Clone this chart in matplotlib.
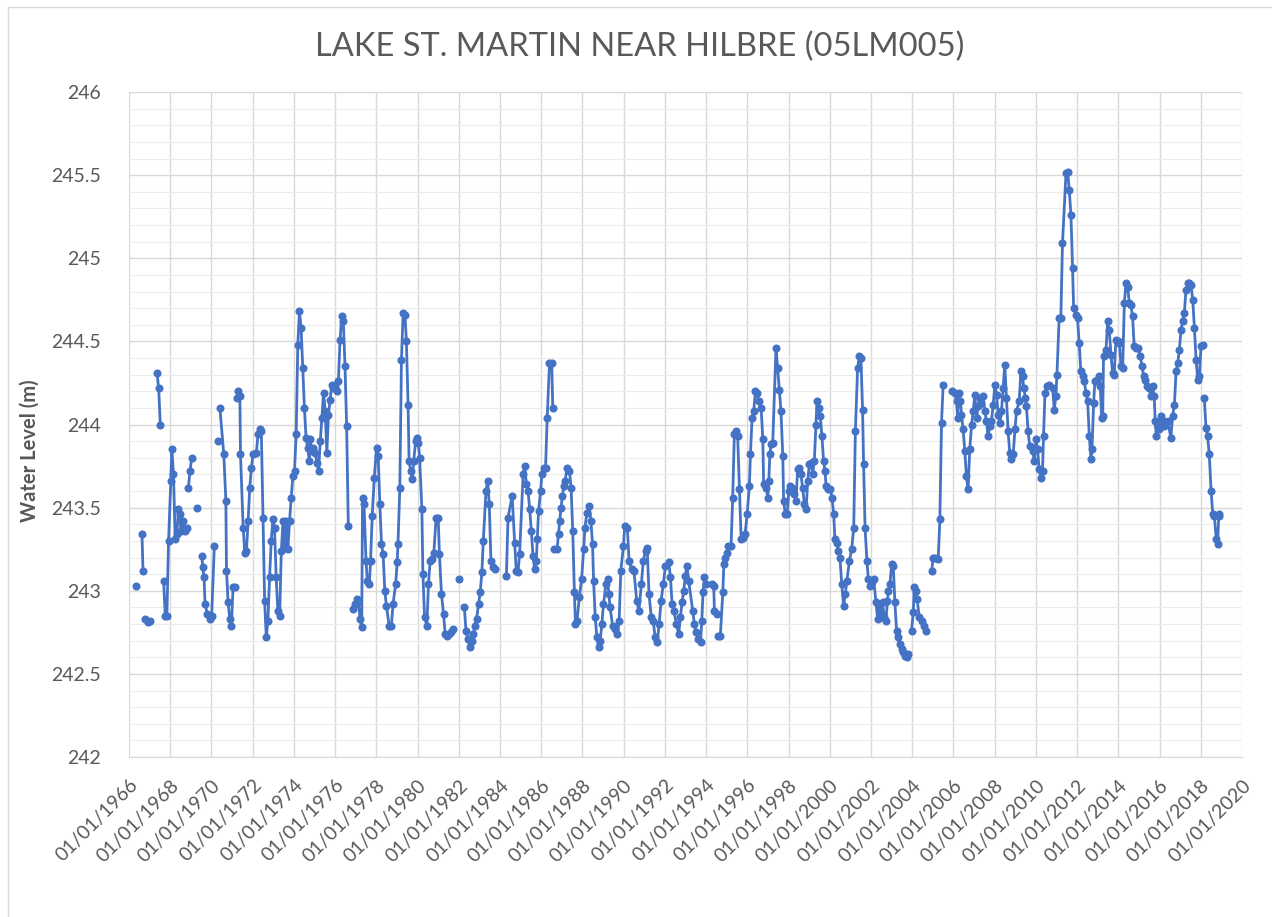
import datetime as dt
import numpy as np
import matplotlib
matplotlib.use("Agg")
import matplotlib.pyplot as plt
import matplotlib.dates as mdates
from matplotlib.lines import Line2D
from matplotlib.ticker import MultipleLocator

GAP = float("nan")

# decimal years of each reading, NaN marks a break in the record
years = [
    1966.34, GAP,
    1966.63, 1966.68, GAP,
    1966.79, 1966.90, 1967.00, GAP,
    1967.36, 1967.44, 1967.52, GAP,
    1967.68, 1967.76, 1967.84, 1967.92, 1968.03, 1968.08, 1968.16, 1968.24, 1968.32, 1968.40,
    1968.48, 1968.51, 1968.61, 1968.72, 1968.80, GAP,
    1968.88, 1968.96, 1969.04, GAP,
    1969.32, GAP,
    1969.53, 1969.58, 1969.64, 1969.69, 1969.80, 1969.93, 1970.01, 1970.14, GAP,
    1970.30, GAP,
    1970.41, 1970.60, 1970.70, 1970.73, 1970.81, 1970.89, 1970.97, 1971.05, 1971.13, GAP,
    1971.22, 1971.30, 1971.38, 1971.41, 1971.54, 1971.62, 1971.70, 1971.78, 1971.86, 1971.94,
    1972.02, 1972.18, 1972.26, 1972.34, 1972.42, 1972.50, 1972.58, 1972.66, 1972.74, 1972.82,
    1972.90, 1972.98, 1973.06, 1973.14, 1973.22, 1973.31, 1973.39, 1973.47, 1973.55, 1973.63,
    1973.71, 1973.79, 1973.87, 1973.95, 1974.03, 1974.11, 1974.19, 1974.27, 1974.35, 1974.43,
    1974.51, 1974.59, 1974.67, 1974.75, 1974.79, 1974.87, 1974.95, 1975.04, 1975.12, 1975.20,
    1975.28, 1975.36, 1975.44, 1975.52, 1975.60, 1975.68, 1975.76, 1975.84, 1975.92, 1976.00,
    1976.08, 1976.16, 1976.24, 1976.32, 1976.40, 1976.48, 1976.56, 1976.64, GAP,
    1976.85, 1976.96, 1977.05, 1977.13, 1977.21, 1977.29, 1977.33, 1977.40, 1977.50, 1977.56,
    1977.66, 1977.72, 1977.80, 1977.90, 1978.01, 1978.09, 1978.17, 1978.25, 1978.33, 1978.41,
    1978.49, 1978.62, 1978.73, 1978.81, 1978.94, 1979.01, 1979.05, 1979.14, 1979.22, 1979.30,
    1979.39, 1979.46, 1979.54, 1979.59, 1979.67, 1979.75, 1979.81, 1979.91, 1979.97, 1980.04,
    1980.10, 1980.21, 1980.26, 1980.34, 1980.45, 1980.53, 1980.61, 1980.71, 1980.79, 1980.90,
    1981.00, 1981.06, 1981.16, 1981.26, 1981.34, 1981.42, 1981.51, 1981.63, 1981.74, GAP,
    1982.03, GAP,
    1982.27, 1982.35, 1982.44, 1982.54, 1982.62, 1982.70, 1982.78, 1982.86, 1982.96, 1983.04,
    1983.12, 1983.19, 1983.32, 1983.40, 1983.48, 1983.56, 1983.67, 1983.77, GAP,
    1984.31, 1984.39, 1984.59, 1984.71, 1984.79, 1984.87, 1984.95, 1985.12, 1985.20, 1985.28,
    1985.36, 1985.44, 1985.52, 1985.60, 1985.68, 1985.76, 1985.81, 1985.87, 1985.97, 1986.03,
    1986.13, 1986.21, 1986.29, 1986.40, 1986.51, 1986.56, GAP,
    1986.64, 1986.77, 1986.84, 1986.90, 1986.96, 1987.03, 1987.09, 1987.16, 1987.25, 1987.37,
    1987.45, 1987.53, 1987.61, 1987.66, 1987.74, 1987.85, 1987.96, 1988.06, 1988.12, 1988.22,
    1988.33, 1988.41, 1988.49, 1988.54, 1988.62, 1988.70, 1988.78, 1988.86, 1988.94, 1989.02,
    1989.14, 1989.22, 1989.28, 1989.34, 1989.46, 1989.57, 1989.70, 1989.78, 1989.86, 1989.99,
    1990.05, 1990.18, 1990.26, 1990.39, 1990.50, 1990.63, 1990.74, 1990.86, 1990.95, 1991.06,
    1991.14, 1991.23, 1991.34, 1991.43, 1991.53, 1991.63, 1991.72, 1991.82, 1991.92, 1992.03,
    1992.19, 1992.27, 1992.35, 1992.43, 1992.56, 1992.67, 1992.75, 1992.83, 1992.91, 1992.99,
    1993.07, 1993.15, 1993.35, 1993.43, 1993.52, 1993.60, 1993.73, 1993.79, 1993.85, 1993.92,
    1994.00, 1994.27, 1994.37, 1994.40, 1994.52, GAP,
    1994.57, 1994.69, 1994.81, 1994.86, 1994.94, 1995.02, 1995.08, 1995.21, 1995.29, 1995.37,
    1995.45, 1995.53, 1995.62, 1995.70, 1995.78, 1995.89, 1995.99, 1996.10, 1996.15, 1996.23,
    1996.31, 1996.39, 1996.47, 1996.55, 1996.67, 1996.75, 1996.79, 1996.91, 1996.99, 1997.04,
    1997.09, 1997.15, 1997.23, 1997.39, 1997.47, 1997.55, 1997.63, 1997.72, 1997.76, 1997.84,
    1997.93, 1998.01, 1998.09, 1998.17, 1998.28, 1998.36, 1998.44, 1998.52, 1998.60, 1998.68,
    1998.77, 1998.85, 1998.93, 1999.01, 1999.09, 1999.17, 1999.25, 1999.33, 1999.38, 1999.46,
    1999.54, 1999.62, 1999.70, 1999.77, 1999.82, 1999.90, 2000.03, 2000.11, 2000.19, 2000.25,
    2000.35, 2000.41, 2000.49, 2000.58, 2000.67, 2000.75, 2000.83, 2000.95, 2001.06, 2001.16,
    2001.24, 2001.35, 2001.43, 2001.51, 2001.59, 2001.64, 2001.71, 2001.80, 2001.87, 2001.95,
    2002.03, 2002.13, 2002.24, 2002.32, 2002.40, 2002.48, 2002.56, 2002.64, 2002.72, 2002.80,
    2002.84, 2002.92, 2003.00, 2003.08, 2003.16, 2003.24, 2003.32, 2003.40, 2003.48, 2003.56,
    2003.64, 2003.73, 2003.81, GAP,
    2003.97, 2004.05, 2004.10, 2004.18, 2004.24, 2004.34, 2004.45, 2004.57, 2004.69, GAP,
    2004.94, 2005.02, 2005.10, 2005.26, 2005.34, 2005.42, 2005.50, GAP,
    2005.91, 2006.07, 2006.15, 2006.20, 2006.26, 2006.34, 2006.39, 2006.47, 2006.55, 2006.63,
    2006.71, 2006.79, 2006.88, 2006.96, 2007.04, 2007.12, 2007.20, 2007.28, 2007.36, 2007.44,
    2007.52, 2007.60, 2007.68, 2007.76, 2007.84, 2007.93, 2008.01, 2008.09, 2008.17, 2008.25,
    2008.33, 2008.41, 2008.49, 2008.57, 2008.65, 2008.73, 2008.81, 2008.90, 2008.98, 2009.06,
    2009.19, 2009.27, 2009.35, 2009.41, 2009.49, 2009.54, 2009.62, 2009.70, 2009.84, 2009.92,
    2010.00, 2010.08, 2010.16, 2010.24, 2010.32, 2010.37, 2010.44, 2010.53, 2010.65, 2010.81,
    2010.89, 2010.97, 2011.02, 2011.13, 2011.21, 2011.29, 2011.46, 2011.54, 2011.62, 2011.70,
    2011.78, 2011.83, 2011.94, 2012.02, 2012.10, 2012.18, 2012.27, 2012.35, 2012.43, 2012.51,
    2012.59, 2012.67, 2012.72, 2012.80, 2012.86, 2012.96, 2013.07, 2013.12, 2013.19, 2013.24,
    2013.28, 2013.40, 2013.48, 2013.56, 2013.64, 2013.72, 2013.80, 2013.88, 2013.96, 2014.05,
    2014.13, 2014.21, 2014.29, 2014.37, 2014.45, 2014.53, 2014.61, 2014.69, 2014.77, 2014.85,
    2014.97, 2015.06, 2015.15, 2015.23, 2015.31, 2015.39, 2015.50, 2015.58, 2015.66, 2015.74,
    2015.79, 2015.84, 2015.91, 2015.99, 2016.07, 2016.15, 2016.23, 2016.31, 2016.39, 2016.55,
    2016.63, 2016.72, 2016.80, 2016.88, 2016.96, 2017.04, 2017.12, 2017.20, 2017.28, 2017.36,
    2017.44, 2017.52, 2017.61, 2017.69, 2017.77, 2017.85, 2017.93, 2018.01, 2018.09, GAP,
    2018.17, 2018.25, 2018.33, 2018.41, 2018.50, 2018.58, 2018.66, 2018.75, 2018.82, 2018.87,
    2018.90,
]

# water level (m), same order as years
levels = [
    243.03, GAP,
    243.34, 243.12, GAP,
    242.83, 242.81, 242.82, GAP,
    244.31, 244.22, 244.00, GAP,
    243.06, 242.85, 242.85, 243.30, 243.66, 243.85, 243.70, 243.31, 243.34, 243.49,
    243.46, 243.36, 243.42, 243.36, 243.38, GAP,
    243.62, 243.72, 243.80, GAP,
    243.50, GAP,
    243.21, 243.14, 243.08, 242.92, 242.86, 242.83, 242.85, 243.27, GAP,
    243.90, GAP,
    244.10, 243.82, 243.54, 243.12, 242.93, 242.83, 242.79, 243.02, 243.02, GAP,
    244.16, 244.20, 244.17, 243.82, 243.38, 243.23, 243.24, 243.42, 243.62, 243.74,
    243.82, 243.83, 243.94, 243.97, 243.96, 243.44, 242.94, 242.72, 242.82, 243.08,
    243.30, 243.43, 243.38, 243.08, 242.88, 242.85, 243.24, 243.42, 243.26, 243.42,
    243.25, 243.42, 243.56, 243.69, 243.72, 243.94, 244.48, 244.68, 244.58, 244.34,
    244.10, 243.92, 243.86, 243.78, 243.91, 243.84, 243.86, 243.83, 243.77, 243.72,
    243.90, 244.04, 244.19, 244.08, 243.83, 244.06, 244.15, 244.24, 244.22, 244.23,
    244.20, 244.26, 244.51, 244.65, 244.62, 244.35, 243.99, 243.39, GAP,
    242.89, 242.92, 242.95, 242.93, 242.83, 242.78, 243.56, 243.52, 243.18, 243.06,
    243.04, 243.18, 243.45, 243.68, 243.86, 243.81, 243.52, 243.28, 243.22, 243.00,
    242.91, 242.79, 242.79, 242.92, 243.04, 243.17, 243.28, 243.62, 244.39, 244.67,
    244.66, 244.50, 244.12, 243.78, 243.72, 243.67, 243.78, 243.90, 243.92, 243.89,
    243.80, 243.49, 243.10, 242.84, 242.79, 243.04, 243.18, 243.19, 243.23, 243.44,
    243.44, 243.22, 242.98, 242.86, 242.74, 242.73, 242.74, 242.75, 242.77, GAP,
    243.07, GAP,
    242.90, 242.76, 242.71, 242.66, 242.70, 242.74, 242.79, 242.83, 242.92, 242.99,
    243.11, 243.30, 243.60, 243.66, 243.52, 243.18, 243.14, 243.13, GAP,
    243.09, 243.44, 243.57, 243.29, 243.12, 243.11, 243.22, 243.70, 243.75, 243.64,
    243.60, 243.49, 243.36, 243.21, 243.13, 243.18, 243.31, 243.48, 243.60, 243.70,
    243.74, 243.74, 244.04, 244.37, 244.37, 244.10, GAP,
    243.25, 243.25, 243.34, 243.42, 243.50, 243.57, 243.63, 243.66, 243.74, 243.72,
    243.62, 243.36, 242.99, 242.80, 242.82, 242.96, 243.07, 243.25, 243.38, 243.47,
    243.51, 243.42, 243.28, 243.06, 242.84, 242.72, 242.66, 242.70, 242.80, 242.92,
    243.04, 243.07, 242.98, 242.90, 242.79, 242.77, 242.74, 242.82, 243.12, 243.27,
    243.39, 243.38, 243.18, 243.13, 243.12, 242.94, 242.88, 243.04, 243.18, 243.24,
    243.26, 242.98, 242.84, 242.82, 242.72, 242.69, 242.80, 242.94, 243.04, 243.15,
    243.17, 243.08, 242.92, 242.88, 242.80, 242.74, 242.84, 242.93, 243.00, 243.09,
    243.15, 243.06, 242.88, 242.80, 242.75, 242.71, 242.69, 242.82, 242.99, 243.08,
    243.04, 243.04, 243.03, 242.88, 242.86, GAP,
    242.73, 242.73, 242.99, 243.16, 243.20, 243.23, 243.27, 243.27, 243.56, 243.94,
    243.96, 243.93, 243.61, 243.31, 243.32, 243.34, 243.46, 243.63, 243.82, 244.04,
    244.08, 244.20, 244.19, 244.14, 244.10, 243.91, 243.64, 243.62, 243.56, 243.66,
    243.82, 243.88, 243.89, 244.46, 244.34, 244.21, 244.08, 243.81, 243.54, 243.46,
    243.46, 243.60, 243.63, 243.62, 243.58, 243.54, 243.73, 243.74, 243.70, 243.62,
    243.52, 243.49, 243.66, 243.76, 243.77, 243.70, 243.78, 244.00, 244.14, 244.10,
    244.05, 243.93, 243.78, 243.72, 243.63, 243.61, 243.61, 243.56, 243.46, 243.31,
    243.29, 243.24, 243.20, 243.04, 242.91, 242.98, 243.06, 243.18, 243.25, 243.38,
    243.96, 244.34, 244.41, 244.40, 244.09, 243.76, 243.38, 243.18, 243.07, 243.03,
    243.05, 243.07, 242.93, 242.83, 242.92, 242.85, 242.93, 242.84, 242.82, 242.94,
    243.00, 243.04, 243.16, 243.15, 242.93, 242.76, 242.72, 242.68, 242.65, 242.63,
    242.61, 242.60, 242.62, GAP,
    242.76, 242.87, 243.02, 243.00, 242.95, 242.84, 242.82, 242.79, 242.76, GAP,
    243.12, 243.20, 243.20, 243.19, 243.43, 244.01, 244.24, GAP,
    244.20, 244.19, 244.14, 244.04, 244.19, 244.14, 244.06, 243.97, 243.84, 243.69,
    243.61, 243.85, 244.00, 244.08, 244.18, 244.04, 244.11, 244.16, 244.13, 244.17,
    244.08, 244.02, 243.93, 243.99, 244.02, 244.12, 244.24, 244.18, 244.06, 244.01,
    244.08, 244.22, 244.36, 244.16, 243.96, 243.83, 243.79, 243.82, 243.97, 244.08,
    244.14, 244.32, 244.29, 244.22, 244.16, 244.11, 243.96, 243.87, 243.84, 243.78,
    243.91, 243.85, 243.73, 243.68, 243.72, 243.93, 244.19, 244.23, 244.24, 244.22,
    244.09, 244.17, 244.30, 244.64, 244.64, 245.09, 245.51, 245.52, 245.41, 245.26,
    244.94, 244.70, 244.66, 244.64, 244.49, 244.32, 244.29, 244.26, 244.19, 244.14,
    243.93, 243.79, 243.85, 244.13, 244.26, 244.27, 244.29, 244.23, 244.04, 244.05,
    244.41, 244.45, 244.62, 244.57, 244.42, 244.31, 244.30, 244.51, 244.50, 244.49,
    244.35, 244.34, 244.73, 244.85, 244.83, 244.73, 244.72, 244.65, 244.47, 244.46,
    244.46, 244.41, 244.35, 244.29, 244.27, 244.23, 244.22, 244.17, 244.23, 244.17,
    244.02, 243.93, 243.99, 243.97, 244.05, 244.02, 243.99, 244.01, 244.02, 243.92,
    244.05, 244.12, 244.32, 244.37, 244.45, 244.57, 244.62, 244.67, 244.81, 244.85,
    244.85, 244.84, 244.75, 244.58, 244.39, 244.27, 244.29, 244.47, 244.48, GAP,
    244.16, 243.98, 243.93, 243.82, 243.60, 243.46, 243.45, 243.31, 243.28, 243.45,
    243.46,
]

tick_years = list(range(1966, 2021, 2))

TEXT = "#595959"
BLUE = "#4472C4"


def to_datenum(y):
    # decimal year -> matplotlib date number
    if np.isnan(y):
        return np.nan
    yr = int(y)
    start = mdates.date2num(dt.datetime(yr, 1, 1))
    end = mdates.date2num(dt.datetime(yr + 1, 1, 1))
    return start + (y - yr) * (end - start)


x = np.array([to_datenum(v) for v in years])
y = np.array(levels, dtype=float)

plt.rcParams["font.family"] = ["Lato", "DejaVu Sans"]

fig = plt.figure(figsize=(12.72, 9.17), dpi=100)
ax = fig.add_axes([129 / 1272, 1 - 757 / 917, (1242 - 129) / 1272, (757 - 92) / 917])

# thin frame round the whole chart
fig.add_artist(Line2D([8 / 1272, 8 / 1272], [0, 1 - 7 / 917], transform=fig.transFigure,
                      color="#d9d9d9", lw=1))
fig.add_artist(Line2D([8 / 1272, 1], [1 - 7 / 917, 1 - 7 / 917], transform=fig.transFigure,
                      color="#d9d9d9", lw=1))

ax.plot(x, y, color=BLUE, lw=2.0, marker="o", ms=4.8, mfc=BLUE, mec=BLUE, zorder=3)

ax.set_xlim(mdates.date2num(dt.datetime(1966, 1, 1)), mdates.date2num(dt.datetime(2020, 1, 1)))
ax.set_ylim(242, 246)

ax.set_xticks([mdates.date2num(dt.datetime(t, 1, 1)) for t in tick_years])
ax.xaxis.set_major_formatter(mdates.DateFormatter("%d/%m/%Y"))
ax.yaxis.set_major_locator(MultipleLocator(0.5))
ax.yaxis.set_minor_locator(MultipleLocator(0.1))
ax.yaxis.set_major_formatter(plt.FuncFormatter(lambda v, p: f"{v:g}"))

ax.grid(True, which="major", color="#d9d9d9", lw=1)
ax.grid(True, which="minor", axis="y", color="#ececec", lw=0.8)
ax.set_axisbelow(True)

for side in ["top", "right", "left"]:
    ax.spines[side].set_visible(False)
ax.spines["bottom"].set_color("#d9d9d9")

ax.tick_params(axis="both", which="both", length=0, colors=TEXT)
ax.tick_params(axis="y", labelsize=14, pad=20)
ax.tick_params(axis="x", labelsize=14, pad=14)
for lbl in ax.get_xticklabels():
    lbl.set_rotation(45)
    lbl.set_ha("right")
    lbl.set_va("top")
    lbl.set_rotation_mode("anchor")

ax.set_ylabel("Water Level (m)", fontsize=14.5, fontweight="bold", color=TEXT)
ax.yaxis.set_label_coords(-0.08, 0.46)
fig.text(0.503, 1 - 47 / 917, "LAKE ST. MARTIN NEAR HILBRE (05LM005)", ha="center", va="center",
         fontsize=23.5, color=TEXT)

fig.savefig("out.png", dpi=100, facecolor="white")
